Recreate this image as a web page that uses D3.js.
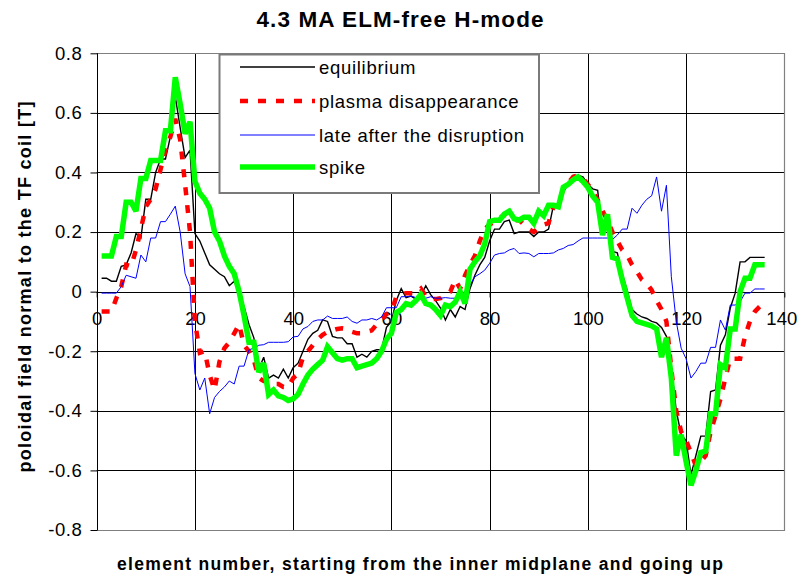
<!DOCTYPE html>
<html>
<head>
<meta charset="utf-8">
<script src="https://cdn.jsdelivr.net/npm/d3@7"></script>
<style>
  body { margin: 0; background: #fff; }
  svg { display: block; font-family: Arial, "Liberation Sans", Helvetica, sans-serif; }
</style>
</head>
<body>
<svg id="chart" width="798" height="578"></svg>
<script>
// Element numbers along the first wall, starting at the inner midplane
const elements = d3.range(1, 137);

// Poloidal field normal to the TF coil [T], one value per element
const equilibrium = [
  0.045, 0.045, 0.035, 0.035, 0.085, 0.09, 0.13, 0.195, 0.18, 0.31,
  0.31, 0.40, 0.445, 0.445, 0.52, 0.655, 0.55, 0.45, 0.475, 0.195,
  0.17, 0.13, 0.09, 0.075, 0.06, 0.05, 0.02, 0.035, 0.0, -0.05,
  -0.11, -0.155, -0.26, -0.22, -0.29, -0.28, -0.29, -0.26, -0.29, -0.255,
  -0.24, -0.20, -0.16, -0.14, -0.13, -0.095, -0.10, -0.15, -0.155, -0.155,
  -0.175, -0.175, -0.22, -0.21, -0.22, -0.20, -0.195, -0.195, -0.12, -0.10,
  -0.03, 0.01, -0.02, -0.015, -0.025, -0.015, 0.02, -0.01, -0.03, -0.055,
  -0.095, -0.06, -0.085, -0.05, -0.06, 0.01, 0.055, 0.09, 0.115, 0.17,
  0.21, 0.21, 0.235, 0.24, 0.195, 0.20, 0.20, 0.20, 0.185, 0.20,
  0.20, 0.21, 0.29, 0.29, 0.335, 0.36, 0.39, 0.39, 0.385, 0.36,
  0.345, 0.34, 0.19, 0.26, 0.135, 0.13, 0.06, 0.005, -0.06, -0.075,
  -0.085, -0.09, -0.10, -0.105, -0.12, -0.15, -0.25, -0.40, -0.48, -0.50,
  -0.615, -0.55, -0.485, -0.485, -0.335, -0.33, -0.18, -0.145, -0.055, -0.005,
  0.10, 0.10, 0.115, 0.115, 0.115, 0.115
];

const plasmaDisappearance = [
  -0.067, -0.067, -0.067, -0.022, 0.017, 0.09, 0.085, 0.14, 0.21, 0.285,
  0.31, 0.345, 0.41, 0.475, 0.52, 0.58, 0.51, 0.36, 0.20, -0.10,
  -0.205, -0.20, -0.28, -0.33, -0.235, -0.19, -0.17, -0.14, -0.11, -0.18,
  -0.20, -0.23, -0.29, -0.30, -0.30, -0.31, -0.31, -0.32, -0.32, -0.29,
  -0.275, -0.22, -0.20, -0.18, -0.16, -0.145, -0.135, -0.13, -0.125, -0.123,
  -0.125, -0.135, -0.14, -0.14, -0.135, -0.13, -0.11, -0.095, -0.075, -0.067,
  -0.017, -0.01, -0.005, -0.005, -0.005, 0.01, -0.015, -0.025, -0.025, -0.022,
  -0.01, 0.0, 0.04, 0.01, 0.055, 0.09, 0.12, 0.17, 0.21, 0.225,
  0.235, 0.245, 0.26, 0.25, 0.24, 0.24, 0.225, 0.21, 0.20, 0.215,
  0.225, 0.23, 0.285, 0.29, 0.345, 0.365, 0.385, 0.39, 0.38, 0.36,
  0.34, 0.307, 0.27, 0.24, 0.20, 0.17, 0.14, 0.123, 0.09, 0.067,
  0.04, 0.028, 0.005, -0.03, -0.06, -0.10, -0.26, -0.40, -0.47, -0.50,
  -0.54, -0.585, -0.57, -0.55, -0.47, -0.415, -0.36, -0.29, -0.225, -0.225,
  -0.225, -0.15, -0.10, -0.067, -0.05, -0.05
];

const lateAfterDisruption = [
  -0.005, -0.005, -0.005, -0.005, 0.017, 0.055, 0.05, 0.045, 0.123, 0.10,
  0.18, 0.18, 0.235, 0.235, 0.26, 0.287, 0.20, 0.06, 0.017, -0.275,
  -0.33, -0.29, -0.41, -0.355, -0.335, -0.32, -0.30, -0.31, -0.25, -0.25,
  -0.195, -0.19, -0.18, -0.178, -0.17, -0.17, -0.17, -0.17, -0.168, -0.152,
  -0.15, -0.125, -0.117, -0.10, -0.095, -0.095, -0.082, -0.09, -0.09, -0.09,
  -0.085, -0.10, -0.106, -0.095, -0.095, -0.09, -0.095, -0.085, -0.054, -0.054,
  -0.054, -0.017, -0.017, -0.015, -0.02, -0.017, -0.022, -0.017, -0.022, -0.022,
  -0.02, -0.022, -0.022, -0.02, 0.0, 0.022, 0.05, 0.06, 0.072, 0.095,
  0.123, 0.128, 0.13, 0.14, 0.145, 0.128, 0.13, 0.128, 0.117, 0.128,
  0.128, 0.128, 0.13, 0.14, 0.145, 0.155, 0.158, 0.17, 0.18, 0.18,
  0.18, 0.18, 0.18, 0.18, 0.175, 0.19, 0.21, 0.21, 0.28, 0.263,
  0.29, 0.31, 0.322, 0.385, 0.27, 0.357, 0.05, -0.10, -0.19, -0.225,
  -0.29, -0.268, -0.24, -0.24, -0.187, -0.187, -0.095, -0.129, -0.045, -0.045,
  -0.034, -0.005, -0.005, 0.009, 0.009, 0.009
];

const spike = [
  0.12, 0.12, 0.12, 0.185, 0.185, 0.30, 0.30, 0.27, 0.38, 0.38,
  0.44, 0.44, 0.44, 0.54, 0.54, 0.72, 0.63, 0.53, 0.57, 0.37,
  0.33, 0.31, 0.28, 0.20, 0.17, 0.12, 0.085, 0.06, 0.0, -0.08,
  -0.17, -0.17, -0.27, -0.24, -0.345, -0.33, -0.35, -0.355, -0.365, -0.36,
  -0.345, -0.31, -0.28, -0.26, -0.245, -0.23, -0.185, -0.205, -0.225, -0.23,
  -0.225, -0.225, -0.255, -0.25, -0.245, -0.24, -0.225, -0.20, -0.16, -0.14,
  -0.07, -0.06, -0.04, -0.045, -0.03, -0.01, -0.04, -0.045, -0.06, -0.08,
  -0.045, -0.05, -0.035, 0.0, -0.04, 0.075, 0.10, 0.12, 0.16, 0.235,
  0.24, 0.24, 0.26, 0.27, 0.245, 0.24, 0.25, 0.25, 0.23, 0.27,
  0.255, 0.29, 0.29, 0.285, 0.35, 0.36, 0.375, 0.385, 0.37, 0.35,
  0.32, 0.30, 0.19, 0.26, 0.115, 0.11, 0.04, -0.02, -0.08, -0.10,
  -0.105, -0.11, -0.115, -0.125, -0.22, -0.155, -0.29, -0.55, -0.48, -0.57,
  -0.65, -0.60, -0.54, -0.535, -0.41, -0.41, -0.245, -0.255, -0.125, -0.125,
  0.0, 0.045, 0.045, 0.09, 0.09, 0.09
];

const seriesNames = ["equilibrium", "plasma disappearance", "late after the disruption", "spike"];
const xTicks = [0, 20, 40, 60, 80, 100, 120, 140];
const yTicks = [-0.8, -0.6, -0.4, -0.2, 0, 0.2, 0.4, 0.6, 0.8];
const yTickLabels = ["-0.8", "-0.6", "-0.4", "-0.2", "0", "0.2", "0.4", "0.6", "0.8"];

const titleText = "4.3 MA ELM-free H-mode";
const xTitle = "element number, starting from the inner midplane and going up";
const yTitle = "poloidal field normal to the TF coil [T]";

// Line styles per series
const styles = [
  { color: "#000000", width: 1.4, dash: null },
  { color: "#ff0000", width: 4.5, dash: "8,10" },
  { color: "#0000ff", width: 1, dash: null },
  { color: "#00ff00", width: 5.5, dash: null }
];

const svg = d3.select("#chart");
const plot = { left: 96.7, right: 784.3, top: 53.3, bottom: 530 };

const x = d3.scaleLinear().domain([0, 140]).range([plot.left, plot.right]);
const y = d3.scaleLinear().domain([-0.8, 0.8]).range([plot.bottom, plot.top]);

// Grid lines (inner ones black)
const grid = svg.append("g");
grid.selectAll("line.h")
  .data(yTicks.filter(v => v > -0.8 && v < 0.8))
  .join("line")
  .attr("x1", plot.left).attr("x2", plot.right)
  .attr("y1", d => Math.round(y(d)) + 0.5).attr("y2", d => Math.round(y(d)) + 0.5)
  .attr("stroke", "#000").attr("stroke-width", 1);
grid.selectAll("line.v")
  .data(xTicks.filter(v => v > 0 && v < 140))
  .join("line")
  .attr("y1", plot.top).attr("y2", plot.bottom)
  .attr("x1", d => Math.round(x(d)) + 0.5).attr("x2", d => Math.round(x(d)) + 0.5)
  .attr("stroke", "#000").attr("stroke-width", 1);

// Plot-area border (grey)
svg.append("path")
  .attr("d", `M${plot.left},${Math.round(plot.top) + 0.5}H${Math.round(plot.right) + 0.5}V${Math.round(plot.bottom) + 0.5}H${plot.left}`)
  .attr("fill", "none").attr("stroke", "#808080").attr("stroke-width", 1.2);

// Y axis
const yAxis = svg.append("g")
  .attr("transform", `translate(${Math.round(plot.left) + 0.5},0)`)
  .call(d3.axisLeft(y).tickValues(yTicks).tickFormat((d, i) => yTickLabels[i]).tickSize(7).tickPadding(8));
yAxis.select(".domain").attr("stroke", "#000").attr("d", `M0,${plot.top}V${plot.bottom}`);
yAxis.selectAll(".tick line").attr("stroke", "#000");
yAxis.selectAll(".tick text")
  .attr("font-size", 18.5).attr("fill", "#000")
  .attr("font-family", "Arial, 'Liberation Sans', sans-serif")
  .style("letter-spacing", "0.6px");

// X axis along the zero line
const xAxis = svg.append("g")
  .attr("transform", `translate(0,${Math.round(y(0)) + 0.5})`)
  .call(d3.axisBottom(x).tickValues(xTicks).tickFormat(d3.format("d")).tickSize(5).tickPadding(14));
xAxis.select(".domain").attr("stroke", "#000").attr("d", `M${plot.left},0H${plot.right}`);
xAxis.selectAll(".tick line").attr("stroke", "#000");
xAxis.selectAll(".tick text")
  .attr("font-size", 18.5).attr("fill", "#000")
  .attr("font-family", "Arial, 'Liberation Sans', sans-serif");
// keep the last label inside the frame
xAxis.selectAll(".tick text").filter(d => d === 140).attr("dx", -3);

// Series lines
const allSeries = [equilibrium, plasmaDisappearance, lateAfterDisruption, spike];
const line = d3.line().x((d, i) => x(elements[i])).y(d => y(d));
svg.append("g").selectAll("path")
  .data(allSeries)
  .join("path")
  .attr("d", d => line(d))
  .attr("fill", "none")
  .attr("stroke", (d, i) => styles[i].color)
  .attr("stroke-width", (d, i) => styles[i].width)
  .attr("stroke-dasharray", (d, i) => styles[i].dash)
  .attr("stroke-linejoin", "miter")
  .attr("stroke-miterlimit", 3);

// Legend
const legend = svg.append("g");
legend.append("rect")
  .attr("x", 219.5).attr("y", 54.5).attr("width", 319.5).attr("height", 138.5)
  .attr("fill", "#fff").attr("stroke", "#7a7a7a").attr("stroke-width", 2);
const rowY = [67, 101, 135, 167];
seriesNames.forEach((name, i) => {
  legend.append("line")
    .attr("x1", 240).attr("x2", 315)
    .attr("y1", rowY[i]).attr("y2", rowY[i])
    .attr("stroke", styles[i].color)
    .attr("stroke-width", styles[i].width)
    .attr("stroke-dasharray", styles[i].dash);
  legend.append("text")
    .attr("x", 319).attr("y", rowY[i])
    .attr("dominant-baseline", "central")
    .attr("font-size", 18.5).attr("fill", "#000")
    .style("letter-spacing", "0.7px")
    .text(name);
});

// Titles
svg.append("text")
  .attr("x", 400).attr("y", 27)
  .attr("text-anchor", "middle")
  .attr("font-size", 22.5).attr("font-weight", "bold")
  .attr("textLength", 287).attr("lengthAdjust", "spacing")
  .text(titleText);

svg.append("text")
  .attr("x", 420).attr("y", 570)
  .attr("text-anchor", "middle")
  .attr("font-size", 17.5).attr("font-weight", "bold")
  .attr("textLength", 606).attr("lengthAdjust", "spacing")
  .text(xTitle);

svg.append("text")
  .attr("transform", "translate(31,287) rotate(-90)")
  .attr("text-anchor", "middle")
  .attr("font-size", 18).attr("font-weight", "bold")
  .attr("textLength", 371).attr("lengthAdjust", "spacing")
  .text(yTitle);
</script>
</body>
</html>
